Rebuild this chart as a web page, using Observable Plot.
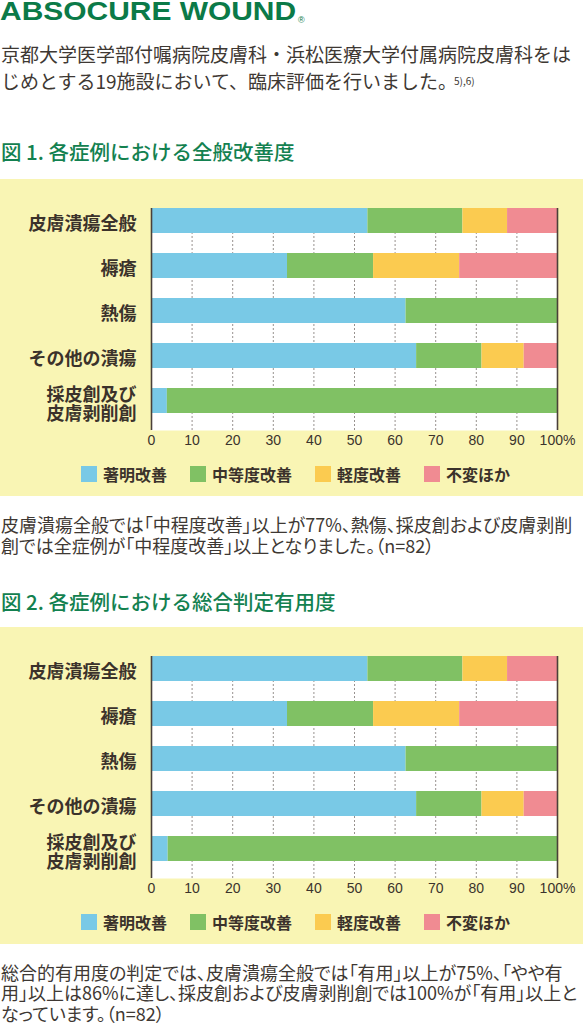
<!DOCTYPE html>
<html><head><meta charset="utf-8">
<script src="https://cdn.jsdelivr.net/npm/d3@7"></script>
<script src="https://cdn.jsdelivr.net/npm/@observablehq/plot@0.6"></script>
<style>
html,body{margin:0;padding:0;background:#fff;}
body{width:583px;height:1024px;position:relative;overflow:hidden;font-family:"Noto Sans CJK JP","Noto Sans",sans-serif;color:#3e3833;}
.abs{position:absolute;left:0;white-space:nowrap;}
#logo{top:0;left:0;font-family:"Liberation Sans",Arial,sans-serif;font-weight:bold;font-size:26.5px;line-height:23px;color:#0b7a48;transform:scaleX(1.13);transform-origin:0 0;}
#reg{top:15px;left:298px;font-family:"Liberation Sans",Arial,sans-serif;font-size:9px;line-height:10px;color:#0b7a48;}
#intro{top:40.4px;left:1px;font-size:19px;line-height:27px;}
#intro sup{font-size:10px;vertical-align:4px;line-height:0;margin-left:-3px;}
.title{font-size:20.5px;line-height:24px;color:#138150;font-weight:500;left:1px;}
.cap{font-size:18px;line-height:21px;left:1px;font-feature-settings:"palt";}
.panel{position:absolute;left:0;width:583px;height:317px;background:#f9f5b4;}
.legend{position:absolute;top:287px;left:81px;display:flex;gap:23px;font-size:16px;font-weight:bold;line-height:16px;color:#3b322b;white-space:nowrap;}
.legend .item{display:flex;align-items:center;}
.legend .sw{display:inline-block;width:16px;height:16px;margin-right:6px;}
</style>
</head><body>
<div id="logo" class="abs">ABSOCURE WOUND</div>
<div id="reg" class="abs">®</div>
<div id="intro" class="abs">京都大学医学部付嘱病院皮膚科・浜松医療大学付属病院皮膚科をは<br>じめとする19施設において、臨床評価を行いました。<sup>5),6)</sup></div>
<div class="abs title" style="top:138.9px">図 1. 各症例における全般改善度</div>
<div class="panel" style="top:179px"><div id="fig1"></div><div class="legend" id="leg1"></div></div>
<div class="abs cap" style="top:513.5px">皮膚潰瘍全般では「中程度改善」以上が77%、熱傷、採皮創および皮膚剥削<br>創では全症例が「中程度改善」以上となりました。（n=82）</div>
<div class="abs title" style="top:588.5px">図 2. 各症例における総合判定有用度</div>
<div class="panel" style="top:627px"><div id="fig2"></div><div class="legend" id="leg2"></div></div>
<div class="abs cap" style="top:961.75px;line-height:20.5px">総合的有用度の判定では、皮膚潰瘍全般では「有用」以上が75%、「やや有<br>用」以上は86%に達し、採皮創および皮膚剥削創では100%が「有用」以上と<br>なっています。（n=82）</div>
<script>
// ---- data ----
const categories = ["皮膚潰瘍全般", "褥瘡", "熱傷", "その他の潰瘍", "採皮創及び\n皮膚剥削創"];
const grades = ["著明改善", "中等度改善", "軽度改善", "不変ほか"];
const gradeColors = ["#79c9e6", "#80c164", "#fbcb50", "#f08b92"];
const xDomain = [0, 100];
const xTicks = [0, 10, 20, 30, 40, 50, 60, 70, 80, 90, 100];
const gridTicks = [10, 20, 30, 40, 50, 60, 70, 80, 90];

// 図1 全般改善度 (%)
const fig1Marked   = [53.3, 33.5, 62.7, 65.3, 3.9];
const fig1Moderate = [23.4, 21.2, 37.3, 16.1, 96.1];
const fig1Slight   = [11.0, 21.2, 0, 10.4, 0];
const fig1None     = [12.3, 24.1, 0, 8.2, 0];

// 図2 総合判定有用度 (%)
const fig2Marked   = [53.3, 33.5, 62.7, 65.3, 4.1];
const fig2Moderate = [23.4, 21.2, 37.3, 16.1, 95.9];
const fig2Slight   = [11.0, 21.2, 0, 10.4, 0];
const fig2None     = [12.3, 24.1, 0, 8.2, 0];

function rowsOf(series) {
  const rows = [];
  categories.forEach((c, i) => grades.forEach((g, j) => rows.push({category: c, grade: g, value: series[j][i]})));
  return rows;
}

function chart(rows) {
  return Plot.plot({
    width: 583, height: 274,
    marginTop: 29, marginBottom: 23, marginLeft: 151, marginRight: 26,
    style: {background: "transparent", fontFamily: "'Noto Sans CJK JP', sans-serif", overflow: "visible"},
    x: {domain: xDomain, label: null},
    y: {domain: categories, label: null, paddingInner: 0.44, paddingOuter: 0.17, align: 0},
    color: {domain: grades, range: gradeColors},
    marks: [
      Plot.frame({fill: "white", stroke: "none"}),
      Plot.ruleX(gridTicks, {stroke: "#8c8682", strokeWidth: 0.9, strokeDasharray: "2,2"}),
      Plot.barX(rows, Plot.stackX({x: "value", y: "category", fill: "grade"})),
      Plot.ruleX(xDomain, {stroke: "#4a4039", strokeWidth: 1.6}),
      Plot.axisX(xTicks, {tickSize: 0, tickPadding: 5, tickFormat: d => d === 100 ? "100%" : String(d),
        fontSize: 14, fontFamily: "'Liberation Sans', Arial, sans-serif", color: "#3b332d"}),
      Plot.axisY({tickSize: 0, tickPadding: 15, fontSize: 18, fontWeight: "bold", color: "#3b322b", dy: 3, lineHeight: 1.08})
    ]
  });
}

function legend(el) {
  grades.forEach((g, i) => {
    const item = document.createElement("span");
    item.className = "item";
    const sw = document.createElement("span");
    sw.className = "sw";
    sw.style.background = gradeColors[i];
    item.appendChild(sw);
    item.appendChild(document.createTextNode(g));
    el.appendChild(item);
  });
}

document.getElementById("fig1").appendChild(chart(rowsOf([fig1Marked, fig1Moderate, fig1Slight, fig1None])));
document.getElementById("fig2").appendChild(chart(rowsOf([fig2Marked, fig2Moderate, fig2Slight, fig2None])));
legend(document.getElementById("leg1"));
legend(document.getElementById("leg2"));
</script>
</body></html>
